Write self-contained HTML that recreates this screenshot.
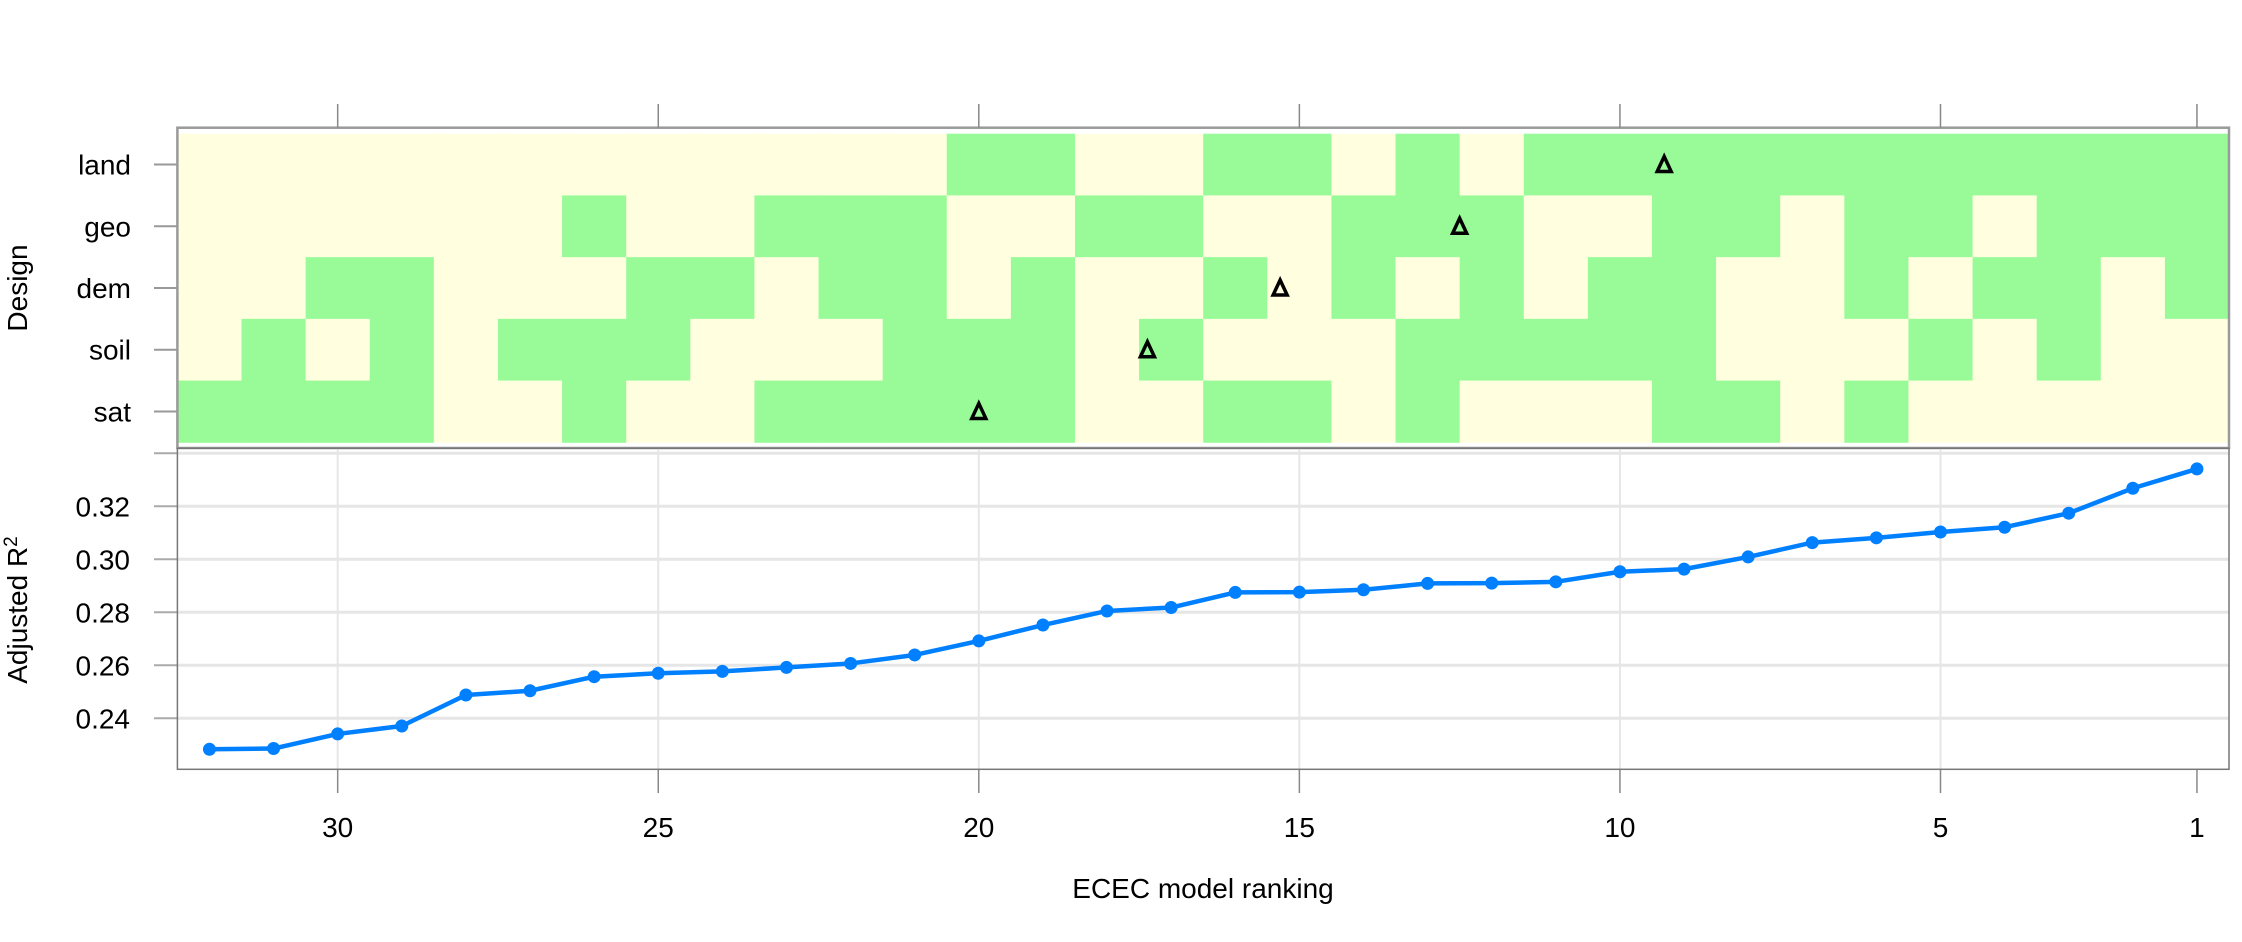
<!DOCTYPE html>
<html><head><meta charset="utf-8"><style>
html,body{margin:0;padding:0;background:#fff;}
svg{display:block;font-family:"Liberation Sans",sans-serif;}
</style></head><body>
<svg id="chart" width="2242" height="942" viewBox="0 0 2242 942" xmlns="http://www.w3.org/2000/svg"></svg>
<script>
// ---- data ----
const rowNames = ["land","geo","dem","soil","sat"];
// design matrix: columns ordered rank 32 -> rank 1 (left to right)
const landRow = [0,0,0,0,0,0,0,0,0,0,0,0,1,1,0,0,1,1,0,1,0,1,1,1,1,1,1,1,1,1,1,1];
const geoRow  = [0,0,0,0,0,0,1,0,0,1,1,1,0,0,1,1,0,0,1,1,1,0,0,1,1,0,1,1,0,1,1,1];
const demRow  = [0,0,1,1,0,0,0,1,1,0,1,1,0,1,0,0,1,0,1,0,1,0,1,1,0,0,1,0,1,1,0,1];
const soilRow = [0,1,0,1,0,1,1,1,0,0,0,1,1,1,0,1,0,0,0,1,1,1,1,1,0,0,0,1,0,1,0,0];
const satRow  = [1,1,1,1,0,0,1,0,0,1,1,1,1,1,0,0,1,1,0,1,0,0,0,1,1,0,1,0,0,0,0,0];
const triangleRanks = [9.31,12.5,15.3,17.37,20.0]; // land, geo, dem, soil, sat
const ranks = [32,31,30,29,28,27,26,25,24,23,22,21,20,19,18,17,16,15,14,13,12,11,10,9,8,7,6,5,4,3,2,1];
const r2Values = [0.2283,0.2286,0.2341,0.2371,0.2488,0.2504,0.2557,0.2570,0.2577,0.2592,0.2607,0.2639,0.2692,0.2752,0.2805,0.2818,0.2875,0.2876,0.2885,0.2909,0.2910,0.2915,0.2953,0.2963,0.3009,0.3063,0.3081,0.3103,0.3121,0.3174,0.3268,0.3341];
const xTicks = [30,25,20,15,10,5,1];
const yTicks = [0.24,0.26,0.28,0.30,0.32,0.34];
const yTickLabels = ["0.24","0.26","0.28","0.30","0.32",""];

// ---- layout ----
const svg = document.getElementById('chart');
const NS = "http://www.w3.org/2000/svg";
const L = 177.4, R = 2229, nCols = 32;
const colW = (R - L) / nCols;
const hTop = 127.7, cellTop = 133.7, cellBot = 442.3, hBot = 448;
const rowH = (cellBot - cellTop) / 5;
const pTop = 448.3, pBot = 769.3;
const xRank = r => L + colW * (32 - r + 0.5);
const yVal = v => 718.3 - (v - 0.24) * 2650;
const rowY = i => cellTop + rowH * (i + 0.5);

function mk(tag, attrs, parent) {
  const e = document.createElementNS(NS, tag);
  for (const k in attrs) e.setAttribute(k, attrs[k]);
  (parent || svg).appendChild(e);
  return e;
}

// ---- heatmap ----
const gH = mk('g', {});


const rows = [landRow, geoRow, demRow, soilRow, satRow];
rows.forEach((row, ri) => {
  row.forEach((v, ci) => {
    const c = mk('rect', {x: L + ci * colW, y: cellTop + ri * rowH, width: colW + 0.5, height: rowH + 0.5,
      fill: v ? '#98fb98' : '#ffffe0'}, gH);
    
    
  });
});
// heatmap frame
const hf = mk('rect', {x: L, y: hTop, width: R - L, height: hBot - hTop, fill: 'none', stroke: '#9a9a9a', 'stroke-width': 2.5});


// triangles
triangleRanks.forEach((r, i) => {
  const cx = xRank(r), cy = rowY(i);
  const t = mk('polygon', {points: `${cx},${cy-8} ${cx-7},${cy+7} ${cx+7},${cy+7}`, fill: 'none', stroke: '#000', 'stroke-width': 3.5, 'stroke-linejoin': 'miter'});
  
  
});
// row labels + ticks
rowNames.forEach((n, i) => {
  const y = rowY(i);
  const tk = mk('line', {x1: 154, x2: L, y1: y, y2: y, stroke: '#999', 'stroke-width': 2});
  
  
  const t = mk('text', {x: 131, y: y + 10, 'text-anchor': 'end', 'font-size': 28, fill: '#000'});
  t.textContent = n;
  
  
});
// top ticks
xTicks.forEach(r => {
  const x = xRank(r);
  const tk = mk('line', {x1: x, x2: x, y1: 104, y2: hTop, stroke: '#888', 'stroke-width': 1.5});
  
  
});
const dt = mk('text', {x: 0, y: 0, 'text-anchor': 'middle', 'font-size': 28, transform: 'translate(27,288) rotate(-90)'});
dt.textContent = 'Design';



// ---- lower panel ----
yTicks.forEach((v, i) => {
  const y = yVal(v);
  const g = mk('line', {x1: L, x2: R, y1: y, y2: y, stroke: '#e6e6e6', 'stroke-width': 3});
  
  
  const tk = mk('line', {x1: 154, x2: L, y1: y, y2: y, stroke: '#aaa', 'stroke-width': 2});
  
  
  if (yTickLabels[i]) {
    const t = mk('text', {x: 130, y: y + 10, 'text-anchor': 'end', 'font-size': 28});
    t.textContent = yTickLabels[i];
    
    
  }
});
xTicks.forEach(r => {
  const x = xRank(r);
  if (r !== 1) {
    const g = mk('line', {x1: x, x2: x, y1: pTop, y2: pBot, stroke: '#e6e6e6', 'stroke-width': 2});
    
    
  }
  const tk = mk('line', {x1: x, x2: x, y1: pBot, y2: 793, stroke: '#888', 'stroke-width': 1.5});
  
  
  const t = mk('text', {x: x, y: 837, 'text-anchor': 'middle', 'font-size': 28});
  t.textContent = r;
  
  
});
const pf = mk('rect', {x: L, y: pTop, width: R - L, height: pBot - pTop, fill: 'none', stroke: '#777', 'stroke-width': 1.5});



const pts = ranks.map((r, i) => xRank(r) + ',' + yVal(r2Values[i])).join(' ');
const line = mk('polyline', {points: pts, fill: 'none', stroke: '#0080ff', 'stroke-width': 4.5, 'stroke-linejoin': 'round'});


ranks.forEach((r, i) => {
  const c = mk('circle', {cx: xRank(r), cy: yVal(r2Values[i]), r: 6.5, fill: '#0080ff'});
  
  
});

const yt = mk('text', {x: 0, y: 0, 'text-anchor': 'middle', 'font-size': 28, transform: 'translate(27,610) rotate(-90)'});
yt.innerHTML = 'Adjusted R<tspan dy="-10" font-size="19">2</tspan>';


const xt = mk('text', {x: 1203, y: 898, 'text-anchor': 'middle', 'font-size': 28});
xt.textContent = 'ECEC model ranking';


</script>
</body></html>
